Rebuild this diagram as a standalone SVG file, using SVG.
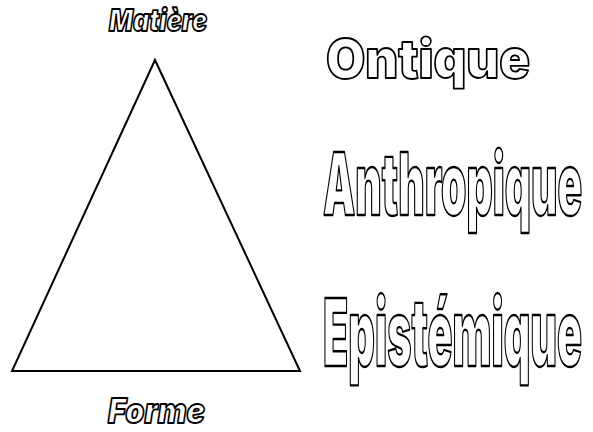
<svg xmlns="http://www.w3.org/2000/svg" width="593" height="432" viewBox="0 0 593 432">
<style>
.o{font-family:Inter,"Liberation Sans",Arial,sans-serif;font-weight:900;fill:#fff;stroke:#000;stroke-width:1.8;stroke-linejoin:round;vector-effect:non-scaling-stroke}
.i{font-style:italic}
</style>
<rect width="593" height="432" fill="#fff"/>
<g id="triangle">
<polygon points="155,60 12,371 300,371" fill="none" stroke="#000" stroke-width="2"/>
</g>
<g id="matiere"><text class="o i" x="109" y="31" font-size="30" textLength="98" lengthAdjust="spacingAndGlyphs">Matière</text></g>
<g id="forme"><text class="o i" x="108" y="423" font-size="34" textLength="97" lengthAdjust="spacingAndGlyphs">Forme</text></g>
<g id="ontique"><text class="o" x="326" y="78" font-size="54" textLength="204" lengthAdjust="spacingAndGlyphs">Ontique</text></g>
<g id="anthropique" transform="translate(323,215) scale(0.42,1)"><text class="o" x="0" y="0" font-size="86" textLength="617" lengthAdjust="spacingAndGlyphs">Anthropique</text></g>
<g id="epistemique" transform="translate(323,366) scale(0.42,1)"><text class="o" x="0" y="0" font-size="93" textLength="617" lengthAdjust="spacingAndGlyphs">Epistémique</text></g>
</svg>
